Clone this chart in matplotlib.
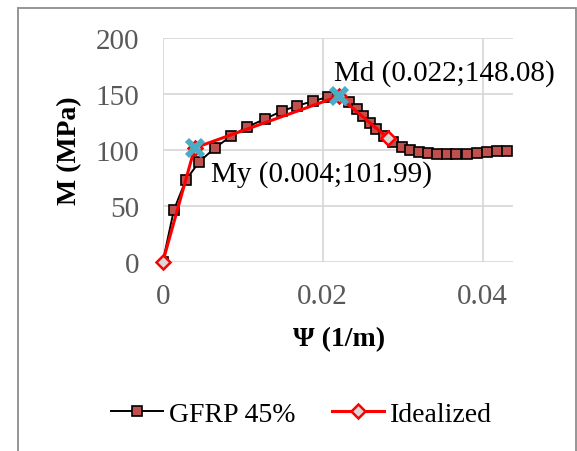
import matplotlib
matplotlib.use('Agg')
import matplotlib.pyplot as plt
from matplotlib.patches import Rectangle

#Data
gfrpX = [0, 0.0014, 0.0029, 0.0046, 0.0065, 0.0085, 0.0106, 0.0128, 0.0149, 0.0168,
         0.0188, 0.0207, 0.0221, 0.0233, 0.0243, 0.0251, 0.0259, 0.0267, 0.0277, 0.0288,
         0.0299, 0.0309, 0.0320, 0.0332, 0.0343, 0.0355, 0.0367, 0.0380, 0.0393, 0.0406,
         0.0418, 0.0431]
gfrpY = [0, 46.7, 73.5, 89.8, 101.8, 112.3, 120.9, 127.8, 134.9, 139.4,
         143.8, 147.4, 148.5, 143.2, 136.5, 130.6, 124.6, 118.5, 112.5, 107.0,
         102.8, 100.2, 98.1, 97.2, 96.9, 96.9, 96.9, 96.9, 97.2, 98.1,
         99.0, 99.3]
idealX = [0, 0.004, 0.022, 0.0282]
idealY = [0, 101.99, 148.08, 110.5]
pointX = [0.004, 0.022]
pointY = [101.99, 148.08]
pointLabels = ['My (0.004;101.99)', 'Md (0.022;148.08)']
xTicks = [0, 0.02, 0.04]
xTickLabels = ['0', '0.02', '0.04']
yTicks = [0, 50, 100, 150, 200]

plt.rcParams['font.family'] = ['Liberation Serif', 'DejaVu Serif']
plt.rcParams['font.size'] = 20

fig = plt.figure(figsize=(5.77, 4.52), dpi=100)
ax = fig.add_axes([162.7/577, 1 - 263.3/452, (513 - 162.7)/577, (263.3 - 39)/452])

#Chart border
fig.patches.append(Rectangle((18/577, -0.01), (575.5 - 18)/577, 1 - 9/452 + 0.01,
                             transform=fig.transFigure, fill=False,
                             edgecolor='#8c8c8c', linewidth=1.3))

ax.plot(gfrpX, gfrpY, color='black', linewidth=1.4, marker='s', markersize=6.5,
        markerfacecolor='#C0504D', markeredgecolor='black', markeredgewidth=1.2,
        label='GFRP 45%', zorder=3)
ax.plot(idealX, idealY, color='#FF0000', linewidth=2.2, marker='D', markersize=7.5,
        markerfacecolor='#D9D9D9', markeredgecolor='#FF0000', markeredgewidth=1.8,
        label='Idealized', zorder=4, clip_on=False)
ax.plot(pointX, pointY, linestyle='none', marker='x', markersize=12,
        markeredgewidth=4.2, color='#4BACC6', zorder=5, clip_on=False)

ax.text(0.0061, 101.99 - 23, pointLabels[0], ha='left', va='center', fontsize=21)
ax.text(0.0214, 148.08 + 21, pointLabels[1], ha='left', va='center', fontsize=21)

ax.set_xlim(0, 0.0438)
ax.set_ylim(0, 200)
ax.set_xticks(xTicks)
ax.set_xticklabels(xTickLabels)
ax.set_yticks(yTicks)
ax.grid(True, color='#d9d9d9', linewidth=1.3)
ax.set_axisbelow(True)
for s in ax.spines.values():
    s.set_visible(False)
ax.tick_params(length=0, colors='#595959', labelsize=21)
ax.tick_params(axis='x', pad=15)
ax.tick_params(axis='y', pad=17)

ax.set_xlabel('Ψ (1/m)', fontweight='bold', va='center', fontsize=20)
ax.xaxis.set_label_coords(0.503, -0.342)
ax.set_ylabel('M (MPa)', fontweight='bold', va='center', fontsize=20)
ax.yaxis.set_label_coords(-0.265, 0.5)

fig.legend(loc='center', bbox_to_anchor=(301.5/577, 1 - 415/452), ncol=2, frameon=False,
           handlelength=1.87, handletextpad=0.22, columnspacing=1.3, fontsize=20,
           borderpad=0, borderaxespad=0)

fig.savefig('out.png', dpi=100)
